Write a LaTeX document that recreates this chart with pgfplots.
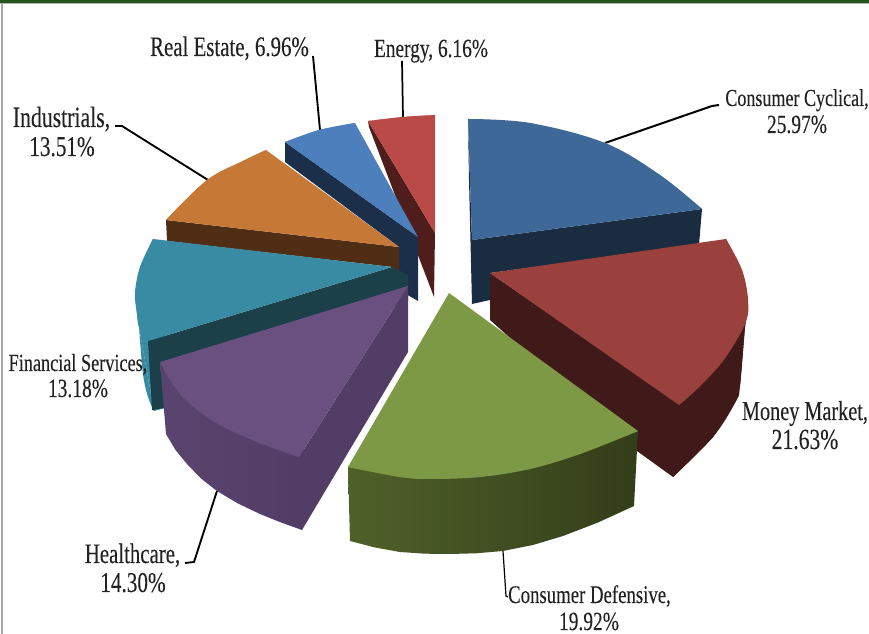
\documentclass[border=0pt]{standalone}
\usepackage{pgfplots}
\pgfplotsset{compat=1.18}
\usepackage{fontspec}
\setmainfont{Liberation Serif}
\newfontfamily\labelfont[FakeStretch=0.74,FakeBold=0.12]{Liberation Serif}
\definecolor{labelink}{HTML}{222222}
% Side-wall shadings of the two front slices
\pgfdeclarehorizontalshading{greenwall}{100bp}{
  rgb(0bp)=(0.37,0.44,0.20);
  rgb(35bp)=(0.29,0.35,0.15);
  rgb(75bp)=(0.20,0.24,0.10);
  rgb(100bp)=(0.22,0.26,0.11)}
\pgfdeclarehorizontalshading{purplewall}{100bp}{
  rgb(0bp)=(0.36,0.28,0.45);
  rgb(60bp)=(0.33,0.25,0.41);
  rgb(100bp)=(0.29,0.21,0.37)}
% Label text is fitted to a given width in axis pixels (0.75pt each), set on its baseline
\newcommand{\lab}[4]{\node[inner sep=0pt,anchor=base,text=labelink] at (axis cs:#1,#2) {\resizebox{#3pt}{!}{\labelfont #4}};}
% A slice face is a flat polygon with a smooth rim laid over its curved edge
\pgfplotsset{flat/.style={draw=none},rim/.style={draw=none,smooth,tension=0.6}}
\definecolor{energyTop}{RGB}{185,74,72}
\definecolor{energySide}{RGB}{79,29,27}
\definecolor{estateTop}{RGB}{76,127,187}
\definecolor{estateSide}{RGB}{27,47,74}
\definecolor{cyclicalTop}{RGB}{61,104,152}
\definecolor{cyclicalSide}{RGB}{26,44,64}
\definecolor{industryTop}{RGB}{198,120,54}
\definecolor{industrySide}{RGB}{80,46,22}
\definecolor{financeTop}{RGB}{57,139,163}
\definecolor{financeSide}{RGB}{28,64,73}
\definecolor{healthTop}{RGB}{105,80,127}
\definecolor{healthSide}{RGB}{82,61,102}
\definecolor{moneyTop}{RGB}{154,64,61}
\definecolor{moneySide}{RGB}{63,26,24}
\definecolor{defensiveTop}{RGB}{126,153,70}
\begin{document}
\begin{tikzpicture}
\begin{axis}[
  scale only axis, width=651.75pt, height=475.5pt,
  xmin=0, xmax=869, ymin=0, ymax=634, y dir=reverse,
  hide axis, clip=false,
]
% Page frame
\addplot[draw=none,fill=white] coordinates {(0,0)(869,0)(869,634)(0,634)} --cycle;
\addplot[draw=none,fill=black!35] coordinates {(1,3)(2.700,3)(2.700,634)(1,634)} --cycle;
\addplot[draw=none,fill=black!30] coordinates {(0,3)(869,3)(869,4.500)(0,4.500)} --cycle;
\addplot[draw=none,fill={rgb,255:red,38;green,84;blue,28}] coordinates {(0,0)(869,0)(869,3)(0,3)} --cycle;

% Leader lines
\addplot[line width=1.4pt,black] coordinates {(313,56)(320,130)};
\addplot[line width=1.3pt,black] coordinates {(402,61)(403,117)};
\addplot[line width=1.4pt,black] coordinates {(115,126)(122,126)(208,180)};
\addplot[line width=1.5pt,black] coordinates {(605,143)(712,106)(719,105)};
\addplot[line width=1.4pt,black] coordinates {(217,491)(194,562)(185,563)};
\addplot[line width=0.9pt,black] coordinates {(503,551)(506,596)(508,597)};

% Energy
\addplot[flat,fill=energySide] coordinates {(368,121)(369,127)(434,297)(435,233)} --cycle;
\addplot[flat,fill=energyTop] coordinates {(435,233)(368,121)(403,117)(435,115)} --cycle;
\addplot[rim,fill=energyTop] coordinates {(368,121)(403,117)(435,115)} --cycle;

% Real Estate
\addplot[flat,fill=estateSide] coordinates {(285,142)(285,162)(399,247)(399,290)(418,301)(418,237)} --cycle;
\addplot[flat,fill=estateTop] coordinates {(418,237)(285,142)(319,130)(355,123)} --cycle;
\addplot[rim,fill=estateTop] coordinates {(285,142)(319,130)(355,123)} --cycle;

% Consumer Cyclical
\addplot[flat,fill=cyclicalSide] coordinates {(468,119)(469,180)(472,304)(490,300)(490,273)(699,245)(702,209)(472,240)} --cycle;
\addplot[flat,fill=cyclicalTop] coordinates {(472,240)(468,119)(530,123)(605,143)(660,175)(702,209)} --cycle;
\addplot[rim,fill=cyclicalTop] coordinates {(468,119)(530,123)(605,143)(660,175)(702,209)} --cycle;

% Industrials
\addplot[flat,fill=industrySide] coordinates {(166,220)(167,241)(392,267)(392,290)(399,288)(399,247)} --cycle;
\addplot[flat,fill=industryTop] coordinates {(399,247)(266,150)(245,160)(207,180)(166,220)} --cycle;
\addplot[rim,fill=industryTop] coordinates {(266,150)(245,160)(207,180)(166,220)} --cycle;

% Financial Services
\addplot[flat,fill=financeTop] coordinates {(139,327)(154,411)(165,408)(165,330)} --cycle;
\addplot[rim,fill=financeTop] coordinates {(139,327)(143,374)(148,397)(154,411)} --cycle;
\addplot[flat,fill=financeSide] coordinates {(392,267)(148,341)(152,410)(165,408)(408,300)(408,275)} --cycle;
\addplot[flat,fill=financeTop] coordinates {(392,267)(153,239)(140,267)(135,293)(137,314)(139,327)(148,341)} --cycle;
\addplot[rim,fill=financeTop] coordinates {(153,239)(140,267)(135,293)(137,314)(139,327)(148,341)} --cycle;

% Healthcare: the curved wall runs under the cut face on its right
\addplot[flat,shading=purplewall] coordinates {(160,362)(166,434)(175.500,450)(187,464)(201,478.500)(217,491)(238,503.500)(260,514)(281,522.500)(302,530)(306,500)(306,450)(280,440)(220,410)(180,385)} --cycle;
\addplot[flat,fill=healthSide] coordinates {(299,457)(408,286)(408,352)(302,530)} --cycle;
\addplot[flat,fill=healthTop] coordinates {(408,286)(160,362)(180,394)(213,421)(257,442)(299,457)} --cycle;
\addplot[rim,fill=healthTop] coordinates {(160,362)(180,394)(213,421)(257,442)(299,457)} --cycle;

% Money Market
\addplot[flat,fill=moneySide] coordinates {(490,273)(490,320)(637,451)(673,477)(713,437)(736,401)(740,386)(745,327)(747,314)(679,404)} --cycle;
\addplot[rim,fill=moneySide] coordinates {(747,314)(745,327)(740,386)(736,401)(713,437)(673,477)} --cycle;
\addplot[flat,fill=moneyTop] coordinates {(490,273)(726,239)(742,270)(748,300)(745,324)(723,361)(697,389)(679,405)} --cycle;
\addplot[rim,fill=moneyTop] coordinates {(726,239)(742,270)(748,300)(745,324)(723,361)(697,389)(679,405)} --cycle;

% Consumer Defensive
\addplot[flat,shading=greenwall] coordinates {(348,467)(350,541)(375,547.500)(400,552)(425,553.700)(450,554)(476,553.300)(503,551)(533,545)(563,536)(598,522.500)(634,506)(638,431)(600,440)(500,460)(400,460)} --cycle;
\addplot[flat,fill=defensiveTop] coordinates {(449,293)(348,467)(400,477)(430,479)(480,477)(530,469)(580,454)(638,431)} --cycle;
\addplot[rim,fill=defensiveTop] coordinates {(348,467)(400,477)(430,479)(480,477)(530,469)(580,454)(638,431)} --cycle;

% Labels
\lab{229.5}{56}{119}{Real Estate, 6.96\%}
\lab{431}{57}{85.5}{Energy, 6.16\%}
\lab{797}{106}{107.5}{Consumer Cyclical,}
\lab{797}{133}{45}{25.97\%}
\lab{61.5}{127}{73}{Industrials,}
\lab{62}{156}{49}{13.51\%}
\lab{78}{371}{104}{Financial Services,}
\lab{78}{397}{45}{13.18\%}
\lab{805}{420}{94.500}{Money Market,}
\lab{805}{449}{50}{21.63\%}
\lab{132.5}{563}{71.500}{Healthcare,}
\lab{133}{592}{49}{14.30\%}
\lab{589.5}{603}{122}{Consumer Defensive,}
\lab{589}{630}{45}{19.92\%}
\end{axis}
\end{tikzpicture}
\end{document}
